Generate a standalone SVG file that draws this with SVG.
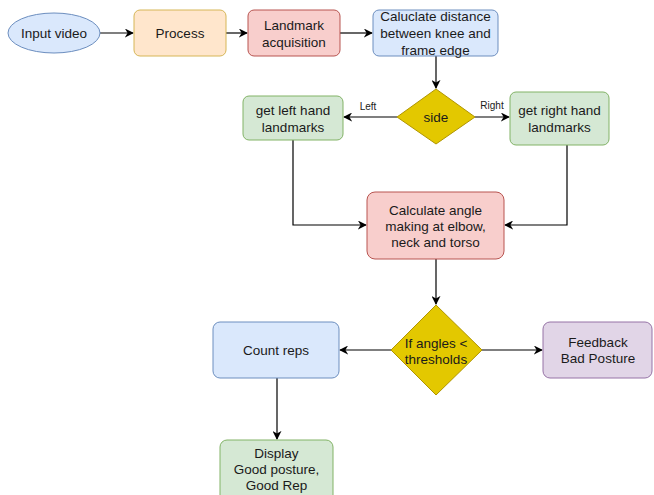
<svg xmlns="http://www.w3.org/2000/svg" width="654" height="495" viewBox="0 0 654 495">
<defs>
<marker id="arr" viewBox="0 0 10 10" refX="9" refY="5" markerWidth="9" markerHeight="9" markerUnits="userSpaceOnUse" orient="auto">
<path d="M0,0 L10,5 L0,10 L3,5 z" fill="#000"/>
</marker>
</defs>
<style>
text{font-family:"Liberation Sans",Arial,sans-serif;font-size:13.5px;fill:#1a1a1a;text-anchor:middle;dominant-baseline:central}
.lbl{font-size:10px}
.blue{fill:#dae8fc;stroke:#6c8ebf;stroke-width:1}
.orange{fill:#ffe6cc;stroke:#d6b656;stroke-width:1}
.red{fill:#f8cecc;stroke:#b85450;stroke-width:1}
.green{fill:#d5e8d4;stroke:#82b366;stroke-width:1}
.purple{fill:#e1d5e7;stroke:#9673a6;stroke-width:1}
.yellow{fill:#e3c800;stroke:#b09500;stroke-width:1}
.edge{fill:none;stroke:#000;stroke-width:1.2;marker-end:url(#arr)}
</style>
<rect width="654" height="495" fill="#fff"/>
<g id="connectors">
<path class="edge" d="M100,33 L133,33"/>
<path class="edge" d="M226,33 L247,33"/>
<path class="edge" d="M340,33 L372,33"/>
<path class="edge" d="M436,56 L436,88"/>
<path class="edge" d="M397,117 L344,117"/>
<path class="edge" d="M475,117 L509,117"/>
<path class="edge" d="M293,140 L293,225 L366,225"/>
<path class="edge" d="M567,145 L567,225 L505,225"/>
<path class="edge" d="M436,259 L436,304"/>
<path class="edge" d="M391,350 L340,350"/>
<path class="edge" d="M482,350 L542,350"/>
<path class="edge" d="M277,378 L277,439"/>
<text class="lbl" x="368" y="106">Left</text>
<text class="lbl" x="492" y="105">Right</text>
</g>
<g id="input-video">
<ellipse class="blue" cx="54" cy="33" rx="46" ry="20"/>
<text x="54" y="33">Input video</text>
</g>
<g id="process">
<rect class="orange" x="134" y="10" width="92" height="46" rx="6"/>
<text x="180" y="33">Process</text>
</g>
<g id="landmark-acquisition">
<rect class="red" x="248" y="10" width="92" height="46" rx="6"/>
<text x="294" y="25">Landmark</text>
<text x="294" y="42">acquisition</text>
</g>
<g id="calc-distance">
<rect class="blue" x="373" y="10" width="125" height="46" rx="6"/>
<text x="435.5" y="16">Caluclate distance</text>
<text x="435.5" y="33">between knee and</text>
<text x="435.5" y="50">frame edge</text>
</g>
<g id="side">
<polygon class="yellow" points="436,89 475,117 436,144 397,117"/>
<text x="436" y="117">side</text>
</g>
<g id="left-hand">
<rect class="green" x="243" y="96" width="100" height="44" rx="6"/>
<text x="293" y="110">get left hand</text>
<text x="293" y="127">landmarks</text>
</g>
<g id="right-hand">
<rect class="green" x="510" y="92" width="99" height="53" rx="6"/>
<text x="559.5" y="110">get right hand</text>
<text x="559.5" y="127">landmarks</text>
</g>
<g id="calc-angle">
<rect class="red" x="367" y="192" width="137" height="67" rx="8"/>
<text x="435.5" y="210">Calculate angle</text>
<text x="435.5" y="226">making at elbow,</text>
<text x="435.5" y="242">neck and torso</text>
</g>
<g id="thresholds">
<polygon class="yellow" points="436,305 482,350 436,395 391,350"/>
<text x="436" y="343">If angles &lt;</text>
<text x="436" y="359">thresholds</text>
</g>
<g id="count-reps">
<rect class="blue" x="213" y="322" width="126" height="56" rx="7"/>
<text x="276" y="350">Count reps</text>
</g>
<g id="feedback">
<rect class="purple" x="543" y="322" width="109" height="56" rx="7"/>
<text x="598" y="342">Feedback</text>
<text x="598" y="358">Bad Posture</text>
</g>
<g id="display">
<rect class="green" x="220" y="440" width="113" height="62" rx="7"/>
<text x="276.5" y="453">Display</text>
<text x="276.5" y="469">Good posture,</text>
<text x="276.5" y="485">Good Rep</text>
</g>
</svg>
